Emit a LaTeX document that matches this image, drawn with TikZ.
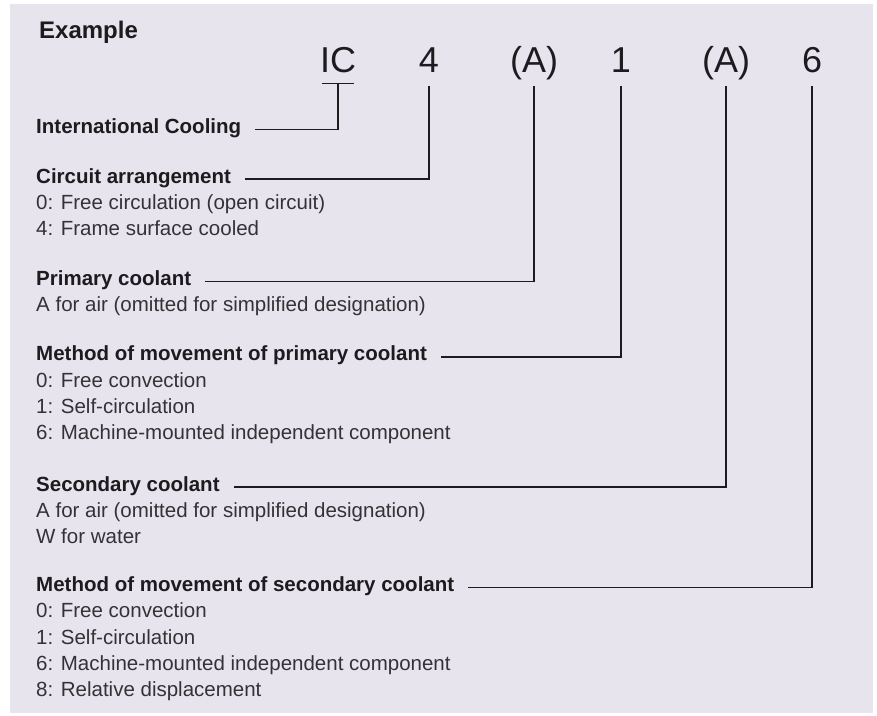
\documentclass[tikz,border=0pt]{standalone}
\usepackage{fontspec}
\setmainfont{Liberation Sans}
\definecolor{panel}{RGB}{231,228,238}
\definecolor{ink}{RGB}{28,28,30}

\begin{document}
\begin{tikzpicture}
  [x=1pt, y=-1pt,
   code/.style={font=\fontsize{36}{40}\selectfont, text=ink, inner sep=0pt,
                text height=26pt, text depth=9pt, anchor=base},
   head/.style={font=\fontsize{20.5}{24}\selectfont\bfseries, text=ink, inner sep=0pt, anchor=base west},
   item/.style={font=\fontsize{20.5}{24}\selectfont, text=ink!90, inner sep=0pt, anchor=base west},
   lead/.style={draw=ink, line width=1.2pt}]

  \useasboundingbox (0,0) rectangle (877,715);
  \fill[panel] (10,4) rectangle (873,713);

  \node[head, font=\fontsize{24}{28}\selectfont\bfseries] (ex) at (39,38) {Example};

  % code letters
  \node[code] (cIC) at (338,72) {IC};
  \node[code] (c4)  at (429,72) {4};
  \node[code] (cA1) at (534,72) {(A)};
  \node[code] (c1)  at (621,72) {1};
  \node[code] (cA2) at (726,72) {(A)};
  \node[code] (c6)  at (812,72) {6};

  % headings
  \node[head] (hIC) at (36,133.5) {International Cooling};
  \node[head] (hCA) at (36,183)   {Circuit arrangement};
  \node[head] (hPC) at (36,285.1) {Primary coolant};
  \node[head] (hMP) at (36,360.9) {Method of movement of primary coolant};
  \node[head] (hSC) at (36,491)   {Secondary coolant};
  \node[head] (hMS) at (36,591.4) {Method of movement of secondary coolant};

  % items
  \node[item] (ca0) at (36,209.3) {0: Free circulation (open circuit)};
  \node[item] (ca4) at (36,235.6) {4: Frame surface cooled};
  \node[item] (pcA) at (36,311.4) {A for air (omitted for simplified designation)};
  \node[item] (mp0) at (36,387.2) {0: Free convection};
  \node[item] (mp1) at (36,413.5) {1: Self-circulation};
  \node[item] (mp6) at (36,439.8) {6: Machine-mounted independent component};
  \node[item] (scA) at (36,517.3) {A for air (omitted for simplified designation)};
  \node[item] (scW) at (36,543.6) {W for water};
  \node[item] (ms0) at (36,617.7) {0: Free convection};
  \node[item] (ms1) at (36,644)   {1: Self-circulation};
  \node[item] (ms6) at (36,670.3) {6: Machine-mounted independent component};
  \node[item] (ms8) at (36,696.6) {8: Relative displacement};

  % leaders
  \draw[lead] ([xshift=2pt,yshift=-2pt]cIC.south west) -- ([xshift=-2pt,yshift=-2pt]cIC.south east);
  \draw[lead] ([xshift=14pt,yshift=4pt]hIC.base east) -| ([yshift=-2pt]cIC.south);
  \foreach \h/\c in {hCA/c4, hPC/cA1, hMP/c1, hSC/cA2, hMS/c6}
    \draw[lead] ([xshift=14pt,yshift=4pt]\h.base east) -| ([yshift=-5pt]\c.south);
\end{tikzpicture}
\end{document}
